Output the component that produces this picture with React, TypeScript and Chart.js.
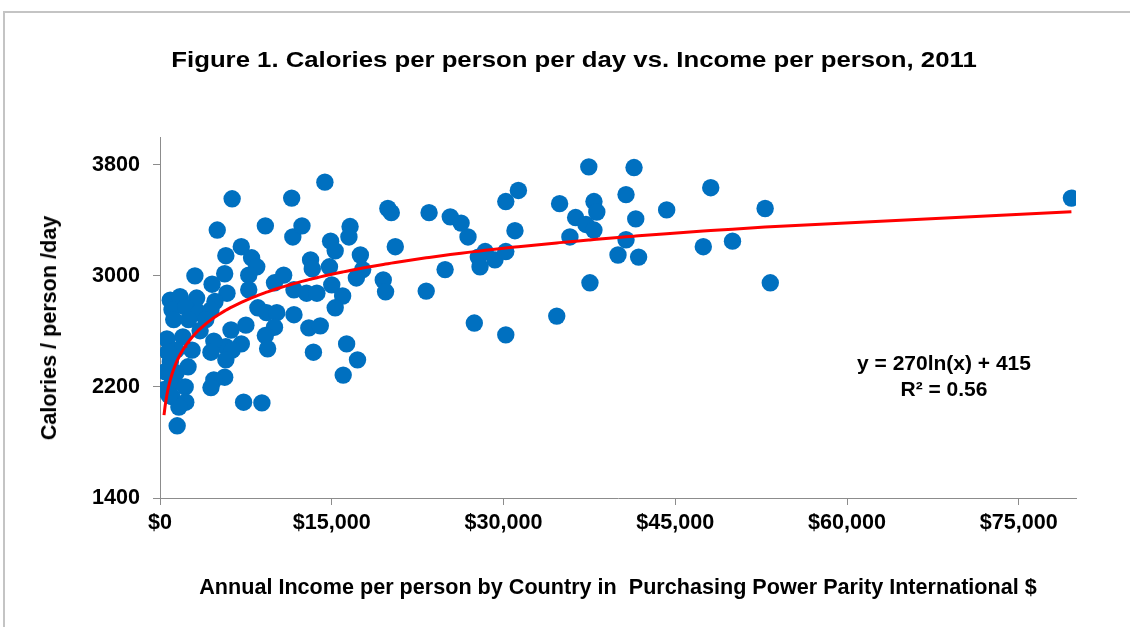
import React, { useEffect, useRef } from "react";
import { Chart, registerables } from "chart.js";

Chart.register(...registerables);

// ---- Data ----
const INCOME = [
  6300, 11500, 5000, 9200, 7100, 5750, 8000, 8450, 7750, 5650,
  3050, 4550, 7750, 10000, 10800, 11600, 11700, 14400, 12400, 16600,
  16500, 19900, 20200, 14900, 15300, 20550, 17500, 13150, 13300, 14800,
  17700, 17150, 19500, 19700, 12800, 13700, 15000, 15950, 15300, 8550,
  9300, 10200, 11700, 7500, 6200, 10000, 9200, 9400, 13000, 14000,
  13400, 16300, 17250, 16000, 5750, 7100, 6300, 5750, 5650, 4700,
  4450, 7300, 8900, 1500, 900, 1750, 3200, 5850, 4800, 1050,
  2250, 3400, 4450, 1200, 2500, 4000, 600, 2000, 3500, 4700,
  1400, 2800, 4450, 900, 2450, 1400, 350, 1050, 2200, 1050,
  2250, 1650, 450, 700, 800,
  23500, 25350, 26300, 26900, 30200, 31300, 31000, 34900, 37450, 41400,
  37900, 38150, 40700, 36300, 37200, 37900, 35800, 41550, 40700, 40000,
  41800, 44250, 48100, 47450, 50000, 52850, 53300, 79600, 24900, 23250,
  28400, 27800, 29250, 30200, 27950, 37550, 27450, 30200, 34650,
];

const CALORIES = [
  3555, 3560, 3330, 3360, 3210, 3145, 3130, 3065, 3005, 3015,
  3000, 2940, 2900, 2950, 3005, 3280, 2900, 3675, 3360, 3355,
  3280, 3485, 3455, 3250, 3180, 3210, 3150, 3115, 3050, 3065,
  3045, 2985, 2970, 2885, 2875, 2875, 2935, 2855, 2770, 2770,
  2735, 2735, 2720, 2645, 2610, 2630, 2570, 2475, 2625, 2640,
  2450, 2510, 2395, 2285, 2490, 2510, 2465, 2395, 2270, 2250,
  2195, 2090, 2085, 1920, 2825, 2850, 2840, 2875, 2815, 2755,
  2775, 2735, 2755, 2685, 2685, 2685, 2545, 2560, 2605, 2530,
  2465, 2465, 2450, 2380, 2345, 2300, 2180, 2230, 2200, 2130,
  2090, 2055, 2310, 2450, 2140,
  3455, 3425, 3380, 3280, 3535, 3615, 3325, 3520, 3785, 3780,
  3535, 3460, 3585, 3420, 3370, 3330, 3280, 3410, 3260, 3150,
  3135, 3475, 3635, 3210, 3250, 3485, 2950, 3560, 3045, 2890,
  3175, 3135, 3115, 3175, 3065, 2950, 2660, 2575, 2710,
];

const X_TICKS = [0, 15000, 30000, 45000, 60000, 75000];
const Y_TICKS = [1400, 2200, 3000, 3800];
const X_MIN = 0;
const X_MAX = 80000;
const Y_MIN = 1400;
const Y_MAX = 4000;

// Logarithmic trendline shown on the chart: y = 270 ln(x) + 415, R² = 0.56
const TREND_A = 270;
const TREND_B = 415;
const TREND_R2 = "0.56";

const TITLE = "Figure 1. Calories per person per day vs. Income per person, 2011";
const X_TITLE = "Annual Income per person by Country in  Purchasing Power Parity International $";
const Y_TITLE = "Calories / person /day";

const FONT = "'Liberation Sans', Arial, Helvetica, sans-serif";
const AXIS_FONT_SIZE = 21.6;

export default function App() {
  const canvasRef = useRef<HTMLCanvasElement | null>(null);

  useEffect(() => {
    if (!canvasRef.current) return;
    const points = INCOME.map((x, i) => ({ x, y: CALORIES[i] }));
    const trendXs = Array.from(new Set(INCOME)).sort((a, b) => a - b);
    const trend = trendXs.map((x) => ({ x, y: TREND_A * Math.log(x) + TREND_B }));

    const tickFont = { family: FONT, size: AXIS_FONT_SIZE, weight: "bold" as const };
    const chart = new Chart(canvasRef.current, {
      type: "scatter",
      data: {
        datasets: [
          {
            type: "line",
            label: "Trend",
            data: trend,
            borderColor: "#FF0000",
            borderWidth: 3,
            pointRadius: 0,
            pointHoverRadius: 0,
            fill: false,
            tension: 0,
            order: 0,
          } as any,
          {
            type: "scatter",
            label: "Countries",
            data: points,
            backgroundColor: "#0070C0",
            borderWidth: 0,
            pointRadius: 8.7,
            pointHoverRadius: 8.7,
            order: 1,
          } as any,
        ],
      },
      options: {
        responsive: false,
        animation: false,
        events: [],
        layout: { padding: { top: 137, right: 54, bottom: 0, left: 0 } },
        plugins: {
          legend: { display: false },
          tooltip: { enabled: false },
          title: { display: false },
        },
        scales: {
          x: {
            type: "linear",
            min: X_MIN,
            max: X_MAX,
            afterBuildTicks: (s: any) => {
              s.ticks = X_TICKS.map((v) => ({ value: v }));
            },
            afterFit: (s: any) => {
              s.height = 129;
            },
            ticks: {
              autoSkip: false,
              maxRotation: 0,
              color: "#000000",
              font: tickFont,
              padding: 5,
              callback: (v: any) => "$" + Number(v).toLocaleString("en-US"),
            },
            grid: {
              display: true,
              drawOnChartArea: false,
              drawTicks: true,
              tickLength: 7,
              tickColor: "#8c8c8c",
              tickWidth: 1,
            },
            border: { display: true, color: "#8c8c8c", width: 1 },
            title: {
              display: true,
              text: X_TITLE,
              color: "#000000",
              font: tickFont,
              padding: { top: 0, bottom: 26 },
            },
          },
          y: {
            type: "linear",
            min: Y_MIN,
            max: Y_MAX,
            afterBuildTicks: (s: any) => {
              s.ticks = Y_TICKS.map((v) => ({ value: v }));
            },
            afterFit: (s: any) => {
              s.width = 160;
            },
            ticks: {
              autoSkip: false,
              color: "#000000",
              font: tickFont,
              padding: 13,
              callback: (v: any) => String(v),
            },
            grid: {
              display: true,
              drawOnChartArea: false,
              drawTicks: true,
              tickLength: 7,
              tickColor: "#8c8c8c",
              tickWidth: 1,
            },
            border: { display: true, color: "#8c8c8c", width: 1 },
            title: { display: false },
          },
        },
      },
    });
    return () => chart.destroy();
  }, []);

  return (
    <div
      style={{
        position: "fixed",
        left: 0,
        top: 0,
        width: 1130,
        height: 627,
        background: "#ffffff",
        overflow: "hidden",
      }}
    >
      <div
        style={{
          position: "absolute",
          left: 3,
          top: 11,
          right: -10,
          bottom: -10,
          borderTop: "2px solid #c4c4c4",
          borderLeft: "2px solid #c4c4c4",
        }}
      />
      <canvas
        ref={canvasRef}
        width={1130}
        height={627}
        style={{ position: "absolute", left: 0, top: 0, display: "block" }}
      />
      <div
        style={{
          position: "absolute",
          left: 574,
          top: 60,
          transform: "translate(-50%, -50%) scaleX(1.17)",
          whiteSpace: "nowrap",
          fontFamily: FONT,
          fontWeight: "bold",
          fontSize: 22,
          lineHeight: "26px",
          color: "#000000",
        }}
      >
        {TITLE}
      </div>
      <div
        style={{
          position: "absolute",
          left: 49,
          top: 328,
          transform: "translate(-50%, -50%) rotate(-90deg)",
          whiteSpace: "nowrap",
          fontFamily: FONT,
          fontWeight: "bold",
          fontSize: AXIS_FONT_SIZE,
          lineHeight: "26px",
          color: "#000000",
        }}
      >
        {Y_TITLE}
      </div>
      <div
        style={{
          position: "absolute",
          left: 794,
          top: 350,
          width: 300,
          textAlign: "center",
          fontFamily: FONT,
          fontWeight: "bold",
          fontSize: 21,
          lineHeight: "26px",
          color: "#000000",
        }}
      >
        <div>{`y = ${TREND_A}ln(x) + ${TREND_B}`}</div>
        <div>{`R² = ${TREND_R2}`}</div>
      </div>
    </div>
  );
}
